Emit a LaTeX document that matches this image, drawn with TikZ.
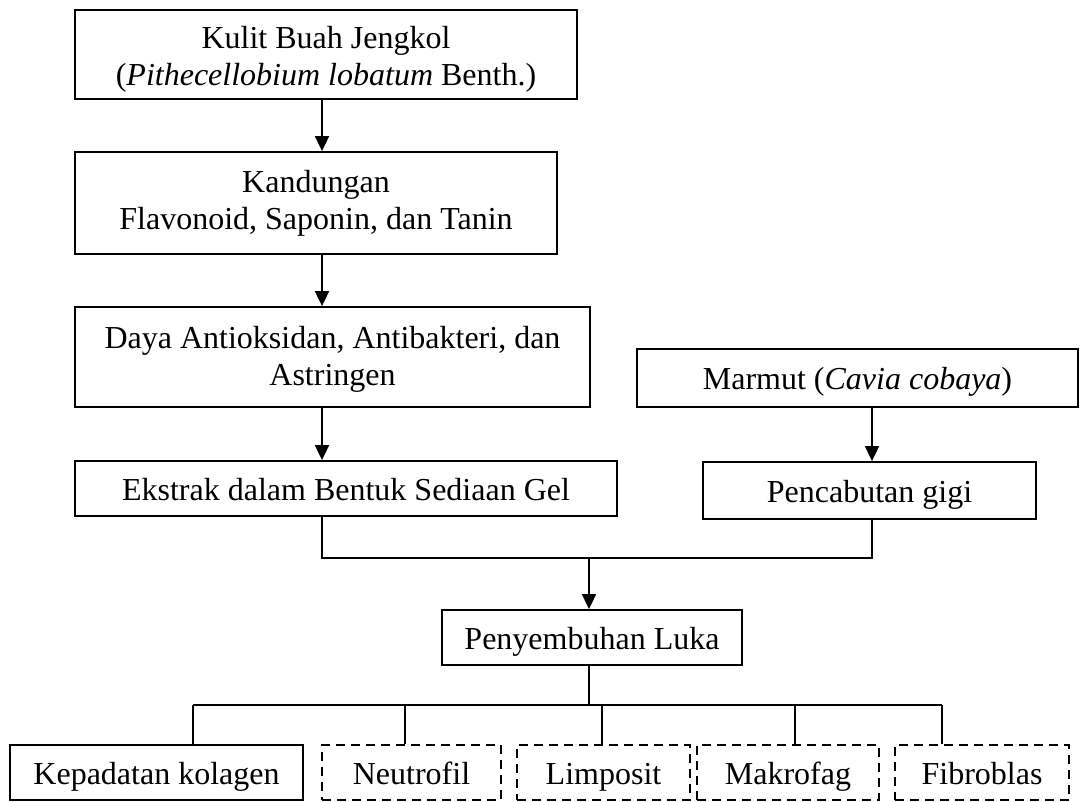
\documentclass[tikz,border=0pt]{standalone}
\usepackage{fontspec}
\setmainfont{Liberation Serif}
\usetikzlibrary{arrows.meta,calc}
\begin{document}
\begin{tikzpicture}[x=1pt,y=-1pt,
  every node/.style={font=\fontsize{32}{37}\selectfont},
  box/.style={draw,line width=1.8pt,rectangle,inner sep=0pt,align=center},
  one/.style={box,text height=27pt,text depth=3pt},
  dbox/.style={one,dash pattern=on 9pt off 6pt},
  link/.style={line width=1.8pt},
  arr/.style={line width=1.8pt,-{Triangle[width=14pt,length=15pt]}}]
\useasboundingbox (0,0) rectangle (1080,802);
% top column
\node[box,minimum width=502pt,minimum height=89pt] (kulit) at (326,54.5)
  {\rule{0pt}{31pt}Kulit Buah Jengkol\\(\textit{Pithecellobium lobatum} Benth.)};
\node[box,minimum width=482pt,minimum height=102pt] (kandungan) at (316,203)
  {Kandungan\\Flavonoid, Saponin, dan Tanin};
\node[box,minimum width=515pt,minimum height=100pt] (daya) at (332.5,357)
  {\rule{0pt}{27pt}Daya Antioksidan, Antibakteri, dan\\Astringen};
\node[one,minimum width=542pt,minimum height=55pt] (ekstrak) at (346,488.5)
  {Ekstrak dalam Bentuk Sediaan Gel};
% right column
\node[one,minimum width=441pt,minimum height=58pt] (marmut) at (857.5,378)
  {Marmut (\textit{Cavia cobaya})};
\node[one,minimum width=333pt,minimum height=57pt] (cabut) at (869.5,490.5)
  {Pencabutan gigi};
% middle
\node[one,minimum width=300pt,minimum height=55pt] (sembuh) at (592,637.5)
  {Penyembuhan Luka};
% bottom row
\node[one,minimum width=293pt,minimum height=55pt] (kolagen) at (156.5,772.5) {Kepadatan kolagen};
\node[dbox,minimum width=179pt,minimum height=55pt] (neutro) at (411.5,772.5) {Neutrofil};
\node[dbox,minimum width=173pt,minimum height=55pt] (limpo) at (603.5,772.5) {Limposit};
\node[dbox,minimum width=182pt,minimum height=55pt] (makro) at (788,772.5) {Makrofag};
\node[dbox,minimum width=174pt,minimum height=55pt] (fibro) at (982,772.5) {Fibroblas};
% helper coordinates
\coordinate (colx) at (322,0);
\coordinate (rx) at (872,0);
\coordinate (join) at (589,558);
\coordinate (bus) at (589,705);
\coordinate (d1) at (193,705);
\coordinate (d2) at (405,705);
\coordinate (d3) at (602,705);
\coordinate (d4) at (795,705);
\coordinate (d5) at (942,705);
% connectors
\draw[arr] (kulit.south -| colx) -- (kandungan.north -| colx);
\draw[arr] (kandungan.south -| colx) -- (daya.north -| colx);
\draw[arr] (daya.south -| colx) -- (ekstrak.north -| colx);
\draw[arr] (marmut.south -| rx) -- (cabut.north -| rx);
\draw[link] (ekstrak.south -| colx) |- (join) -| (cabut.south -| rx);
\draw[arr] (join) -- (sembuh.north -| join);
\draw[link] (sembuh.south -| join) -- (bus);
\draw[link] (d1) -- (d5);
\draw[link] (d1) -- (d1 |- kolagen.north);
\draw[link] (d2) -- (d2 |- neutro.north);
\draw[link] (d3) -- (d3 |- limpo.north);
\draw[link] (d4) -- (d4 |- makro.north);
\draw[link] (d5) -- (d5 |- fibro.north);
\end{tikzpicture}
\end{document}
